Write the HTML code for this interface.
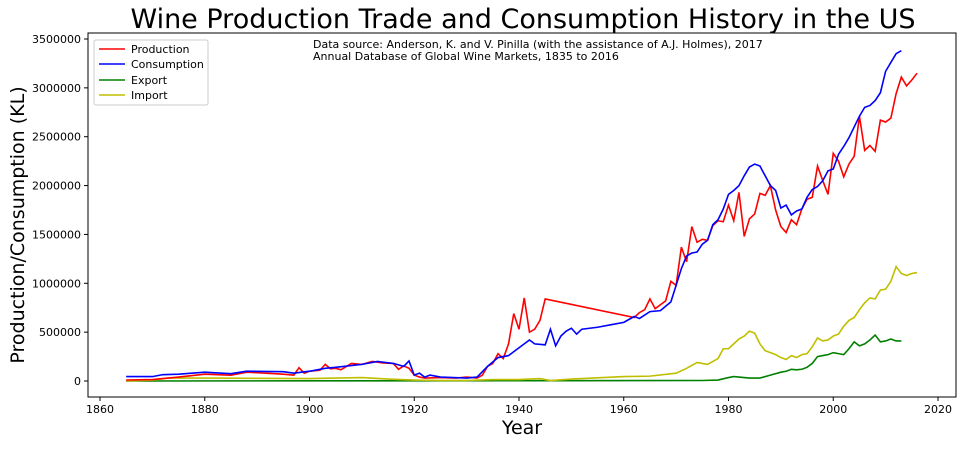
<!DOCTYPE html>
<html><head><meta charset="utf-8"><style>
body{margin:0;background:#fff;font-family:"Liberation Sans","DejaVu Sans",sans-serif}
svg text{font-family:"DejaVu Sans","Liberation Sans",sans-serif}
</style></head><body>
<svg id="chart" width="967" height="446">
<text x="523" y="28" text-anchor="middle" font-size="27">Wine Production Trade and Consumption History in the US</text>
<text transform="translate(24,225) rotate(-90)" text-anchor="middle" font-size="19">Production/Consumption (KL)</text>
<text x="522" y="434" text-anchor="middle" font-size="19">Year</text>
<text x="313" y="48" font-size="11">Data source: Anderson, K. and V. Pinilla (with the assistance of A.J. Holmes), 2017</text>
<text x="313" y="60" font-size="11">Annual Database of Global Wine Markets, 1835 to 2016</text>
<g id="axes"></g><g id="lines"></g>
<rect x="88" y="33" width="868" height="364" fill="none" stroke="#000" stroke-width="1"/>
<g>
<rect x="94" y="40" width="114" height="65" fill="#fff" stroke="#ccc" rx="2"/>
<line x1="99" y1="49" x2="125" y2="49" stroke="red" stroke-width="1.6"/><text x="131" y="53" font-size="11">Production</text>
<line x1="99" y1="64" x2="125" y2="64" stroke="blue" stroke-width="1.6"/><text x="131" y="68" font-size="11">Consumption</text>
<line x1="99" y1="80" x2="125" y2="80" stroke="green" stroke-width="1.6"/><text x="131" y="84" font-size="11">Export</text>
<line x1="99" y1="95" x2="125" y2="95" stroke="#bfbf00" stroke-width="1.6"/><text x="131" y="99" font-size="11">Import</text>
</g>
</svg>
<script>
const xTicks=[1860,1880,1900,1920,1940,1960,1980,2000,2020];
const yTicks=[0,500000,1000000,1500000,2000000,2500000,3000000,3500000];
const productionYears=[1865,1870,1875,1880,1885,1888,1890,1895,1897,1898,1899,1900,1902,1903,1904,1905,1906,1908,1910,1912,1914,1916,1917,1918,1919,1920,1921,1922,1925,1928,1930,1932,1933,1934,1935,1936,1937,1938,1939,1940,1941,1942,1943,1944,1945,1962,1963,1964,1965,1966,1967,1968,1969,1970,1971,1972,1973,1974,1975,1976,1977,1978,1979,1980,1981,1982,1983,1984,1985,1986,1987,1988,1989,1990,1991,1992,1993,1994,1995,1996,1997,1998,1999,2000,2001,2002,2003,2004,2005,2006,2007,2008,2009,2010,2011,2012,2013,2014,2015,2016];
const productionValues=[10,15,40,70,60,90,85,70,60,136,80,100,110,170,125,130,115,180,170,200,185,180,120,155,130,60,40,30,35,30,40,30,60,150,180,280,230,380,690,530,850,500,530,620,840,650,700,730,840,740,780,820,1020,980,1370,1220,1580,1420,1450,1440,1590,1640,1630,1800,1640,1930,1480,1660,1710,1920,1900,2000,1750,1580,1520,1650,1600,1760,1860,1880,2200,2050,1910,2330,2250,2090,2220,2300,2710,2360,2410,2350,2670,2650,2690,2940,3110,3020,3080,3150];
const consumptionYears=[1865,1870,1872,1875,1880,1885,1888,1895,1897,1900,1903,1905,1910,1913,1916,1918,1919,1920,1921,1922,1923,1925,1930,1932,1934,1936,1938,1940,1942,1943,1945,1946,1947,1948,1949,1950,1951,1952,1955,1958,1960,1962,1963,1965,1967,1969,1970,1971,1972,1973,1974,1975,1976,1977,1978,1979,1980,1981,1982,1983,1984,1985,1986,1987,1988,1989,1990,1991,1992,1993,1994,1995,1996,1997,1998,1999,2000,2001,2002,2003,2004,2005,2006,2007,2008,2009,2010,2011,2012,2013];
const consumptionValues=[45,45,65,70,90,75,100,95,80,100,130,140,170,200,180,150,205,60,80,40,60,40,30,40,150,240,260,340,420,380,370,530,360,460,510,540,480,530,550,580,600,660,640,710,720,810,980,1150,1280,1310,1320,1400,1440,1600,1650,1760,1910,1950,2000,2100,2190,2220,2200,2100,2000,1950,1770,1800,1700,1740,1760,1880,1960,1990,2050,2150,2170,2320,2400,2490,2600,2710,2800,2820,2870,2950,3170,3260,3350,3380];
const importYears=[1865,1870,1873,1880,1900,1910,1915,1920,1925,1930,1935,1940,1944,1946,1950,1960,1965,1970,1972,1974,1976,1978,1979,1980,1981,1982,1983,1984,1985,1986,1987,1988,1989,1990,1991,1992,1993,1994,1995,1996,1997,1998,1999,2000,2001,2002,2003,2004,2005,2006,2007,2008,2009,2010,2011,2012,2013,2014,2015,2016];
const importValues=[0,10,30,30,25,35,20,10,5,5,15,15,25,5,20,45,50,80,130,190,170,230,330,330,380,430,460,510,490,380,310,290,270,240,220,260,240,270,280,350,440,410,420,460,480,560,620,650,730,800,850,840,930,940,1020,1170,1100,1080,1100,1110];
const exportYears=[1865,1900,1950,1975,1978,1980,1981,1982,1984,1986,1988,1990,1991,1992,1993,1994,1995,1996,1997,1998,1999,2000,2001,2002,2003,2004,2005,2006,2007,2008,2009,2010,2011,2012,2013];
const exportValues=[0,2,3,5,10,35,45,40,30,30,60,90,100,120,115,120,140,180,250,260,270,290,280,270,330,400,360,380,420,470,400,410,430,410,410];

const sx=y=>100+(y-1860)*5.2375;
const sy=v=>381-v*342/3500000;
const NS="http://www.w3.org/2000/svg";
const ax=document.getElementById('axes'), ln=document.getElementById('lines');
xTicks.forEach(t=>{
 const l=document.createElementNS(NS,'line');l.setAttribute('x1',sx(t));l.setAttribute('x2',sx(t));l.setAttribute('y1',397);l.setAttribute('y2',401);l.setAttribute('stroke','#000');
 
 ax.appendChild(l);
 const tx=document.createElementNS(NS,'text');tx.setAttribute('x',sx(t));tx.setAttribute('y',413);tx.setAttribute('text-anchor','middle');tx.setAttribute('font-size','11');tx.textContent=t;
 
 ax.appendChild(tx);
});
yTicks.forEach(t=>{
 const l=document.createElementNS(NS,'line');l.setAttribute('x1',84);l.setAttribute('x2',88);l.setAttribute('y1',sy(t));l.setAttribute('y2',sy(t));l.setAttribute('stroke','#000');
 
 ax.appendChild(l);
 const tx=document.createElementNS(NS,'text');tx.setAttribute('x',81);tx.setAttribute('y',sy(t)+4);tx.setAttribute('text-anchor','end');tx.setAttribute('font-size','11');tx.textContent=t;
 
 ax.appendChild(tx);
});
function series(xs,vs,color,name){
 const p=document.createElementNS(NS,'polyline');
 p.setAttribute('points',xs.map((y,i)=>sx(y)+','+sy(vs[i]*1000)).join(' '));
 p.setAttribute('fill','none');p.setAttribute('stroke',color);p.setAttribute('stroke-width','1.6');
 
 
 ln.appendChild(p);
}
series(exportYears,exportValues,'green','export-line');
series(importYears,importValues,'#bfbf00','import-line');
series(productionYears,productionValues,'red','production-line');
series(consumptionYears,consumptionValues,'blue','consumption-line');
</script>
</body></html>
